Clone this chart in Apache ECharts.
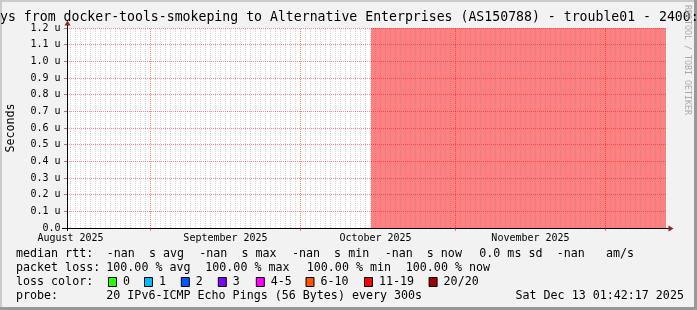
<!DOCTYPE html>
<html>
<head>
<meta charset="utf-8">
<script src="https://cdn.jsdelivr.net/npm/echarts@6/dist/echarts.min.js"></script>
<style>
html,body{margin:0;padding:0;background:#f2f2f2;}
#chart{width:697px;height:310px;}
</style>
</head>
<body>
<div id="chart"></div>
<script>
// ---------- data ----------
const titleText = 'ys from docker-tools-smokeping to Alternative Enterprises (AS150788) - trouble01 - 2400:';
const viewRange = ['2025-08-15T07:12:00Z', '2025-12-13T07:12:00Z'];
const monthStarts = ['2025-08-01', '2025-09-01', '2025-10-01', '2025-11-01', '2025-12-01'];
const monthLabels = ['August 2025', 'September 2025', 'October 2025', 'November 2025'];
const yMax = 1.2;
const yStep = 0.1;
// loss samples: time, lost pings (of 20)
const lossTimes = ['2025-10-15T02:24:00Z', '2025-12-13T02:00:00Z'];
const lossPings = [20, 20];
const lossLegend = ['0', '1', '2', '3', '4-5', '6-10', '11-19', '20/20'];
const lossColors = ['#26ff00', '#00b8ff', '#0059ff', '#7e00ff', '#ff00ff', '#ff5500', '#ff0000', '#a10000'];
const rttRow = ['median rtt:', '-nan  s avg', '-nan  s max', '-nan  s min', '-nan  s now', '0.0 ms sd', '-nan   am/s'];
const lossRow = ['packet loss:', '100.00 % avg', '100.00 % max', '100.00 % min', '100.00 % now'];
const probeRow = ['probe:', '20 IPv6-ICMP Echo Pings (56 Bytes) every 300s', 'Sat Dec 13 01:42:17 2025'];

// ---------- helpers ----------
const MONO = '"DejaVu Sans Mono", monospace';
const T0 = Date.UTC(2025, 7, 1);
const dayOf = s => (Date.parse(s.length === 10 ? s + 'T00:00:00Z' : s) - T0) / 86400000;
const xMin = dayOf(viewRange[0]);
const xMax = dayOf(viewRange[1]);
const monthDays = monthStarts.map(dayOf);
const monthTickDays = monthDays.filter(d => d > xMin && d < xMax);
const labelDays = monthLabels.map((_, i) => monthDays[i] + 15);
const labelMap = {};
labelDays.forEach((d, i) => { labelMap[d.toFixed(2)] = monthLabels[i]; });

const lossData = lossTimes.map((t, i) => [dayOf(t), lossPings[i] > 0 ? yMax : 0]);

const MGRID = 'rgba(255,0,0,0.5)';
const HGRID = 'rgba(255,0,0,0.45)';
const GRID = 'rgba(128,128,128,0.35)';
const dayLines = [];
for (let d = Math.ceil(xMin); d <= Math.floor(xMax); d++) {
  if (monthTickDays.indexOf(d) >= 0) continue;
  dayLines.push({ xAxis: d });
}
const monthLines = monthTickDays.map(d => ({ xAxis: d }));

function gridSeries(name, lines, color, z) {
  return {
    name: name, type: 'line', z: z, silent: true, data: [],
    markLine: {
      silent: true, symbol: ['none', 'none'], animation: false, label: { show: false },
      lineStyle: { color: color, type: [1, 1], width: 1, opacity: 1 },
      emphasis: { disabled: true },
      data: lines
    }
  };
}

// ---------- decorations / legend ----------
const graphics = [];
function txt(x, y, s, size, extra) {
  graphics.push(Object.assign({
    type: 'text', x: x, y: y, silent: true,
    style: { text: s, fill: '#000', font: size + 'px ' + MONO, align: 'left', verticalAlign: 'middle' }
  }, extra || {}));
}
// frame
graphics.push({ type: 'rect', silent: true, shape: { x: 0, y: 0, width: 697, height: 2 }, style: { fill: '#cbcbcb' } });
graphics.push({ type: 'rect', silent: true, shape: { x: 0, y: 0, width: 2, height: 310 }, style: { fill: '#cbcbcb' } });
graphics.push({ type: 'rect', silent: true, shape: { x: 694, y: 0, width: 3, height: 310 }, style: { fill: '#999' } });
graphics.push({ type: 'rect', silent: true, shape: { x: 0, y: 307, width: 697, height: 3 }, style: { fill: '#999' } });
// title
txt(0, 18, titleText, 13.2);
// watermark
graphics.push({
  type: 'text', x: 687, y: 5, rotation: -Math.PI / 2, silent: true,
  style: { text: 'RRDTOOL / TOBI OETIKER', fill: '#aaa', font: '8.3px ' + MONO, align: 'left', verticalAlign: 'middle' }
});
// axis extensions and arrows
graphics.push({ type: 'line', silent: true, z: 20, shape: { x1: 67.5, y1: 28, x2: 67.5, y2: 24 }, style: { stroke: '#000', lineWidth: 1 } });
graphics.push({ type: 'line', silent: true, z: 20, shape: { x1: 67.5, y1: 228, x2: 67.5, y2: 231 }, style: { stroke: '#000', lineWidth: 1 } });
graphics.push({ type: 'line', silent: true, z: 20, shape: { x1: 62, y1: 228.5, x2: 67, y2: 228.5 }, style: { stroke: '#000', lineWidth: 1 } });
graphics.push({ type: 'line', silent: true, z: 20, shape: { x1: 667, y1: 228.5, x2: 669, y2: 228.5 }, style: { stroke: '#000', lineWidth: 1 } });
graphics.push({ type: 'polygon', silent: true, z: 20, shape: { points: [[64.5, 25.5], [70.5, 25.5], [67.5, 20.5]] }, style: { fill: '#9a1f1f' } });
graphics.push({ type: 'polygon', silent: true, z: 20, shape: { points: [[668.5, 225.5], [668.5, 231.5], [673.5, 228.5]] }, style: { fill: '#9a1f1f' } });

// legend rows
const F = 11.66;
const rttX = [16, 106.8, 199.3, 292, 384.7, 479.3, 556.8];
rttRow.forEach((s, i) => txt(rttX[i], 254.2, s, F));
const lossX = [16, 106.3, 205.3, 306.8, 405.8];
lossRow.forEach((s, i) => txt(lossX[i], 268.2, s, F));
txt(16, 282.2, 'loss color:', F);
const lossLabelX = [123, 159, 195.8, 232.8, 270.8, 320.5, 379, 443.6];
lossLegend.forEach((s, i) => {
  graphics.push({ type: 'rect', silent: true, shape: { x: lossLabelX[i] - 14.5, y: 277.5, width: 8, height: 9 }, style: { fill: lossColors[i], stroke: '#000', lineWidth: 1 } });
  txt(lossLabelX[i], 282.2, s, F);
});
const probeX = [16, 106.3, 515.5];
probeRow.forEach((s, i) => txt(probeX[i], 296.2, s, F));

// ---------- chart ----------
const chart = echarts.init(document.getElementById('chart'), null, { renderer: 'canvas' });
chart.setOption({
  animation: false,
  backgroundColor: '#f2f2f2',
  grid: { left: 67, top: 28, width: 600, height: 200, show: true, backgroundColor: '#fff', borderWidth: 0, containLabel: false, outerBoundsMode: 'none' },
  xAxis: {
    type: 'value', min: xMin, max: xMax, z: 12,
    axisLine: { show: true, onZero: false, lineStyle: { color: '#000', width: 1 } },
    axisTick: { show: true, customValues: monthTickDays, length: 3, lineStyle: { color: MGRID } },
    axisLabel: {
      customValues: labelDays, margin: 5, color: '#000', fontFamily: MONO, fontSize: 10,
      formatter: v => labelMap[Number(v).toFixed(2)] || ''
    },
    splitLine: { show: false }
  },
  yAxis: {
    type: 'value', min: 0, max: yMax, interval: yStep, z: 10,
    name: 'Seconds', nameLocation: 'middle', nameGap: 50, nameRotate: 90,
    nameTextStyle: { color: '#000', fontFamily: MONO, fontSize: F },
    axisLine: { show: true, lineStyle: { color: '#000', width: 1 } },
    axisTick: { show: true, length: 3, lineStyle: { color: '#888' } },
    axisLabel: {
      margin: 6.5, color: '#000', fontFamily: MONO, fontSize: 10,
      formatter: v => (Math.abs(v) < 1e-9 ? '0.0' : Number(v).toFixed(1) + ' u')
    },
    splitLine: { show: true, lineStyle: { color: HGRID, type: [1, 1], width: 1 } }
  },
  series: [
    {
      name: 'loss', type: 'line', z: 2, silent: true, data: lossData, symbol: 'none',
      lineStyle: { width: 0 }, areaStyle: { color: '#ff8080', opacity: 1 }
    },
    gridSeries('dayGrid', dayLines, GRID, 5),
    gridSeries('monthGrid', monthLines, MGRID, 6)
  ],
  graphic: graphics
});
</script>
</body>
</html>
